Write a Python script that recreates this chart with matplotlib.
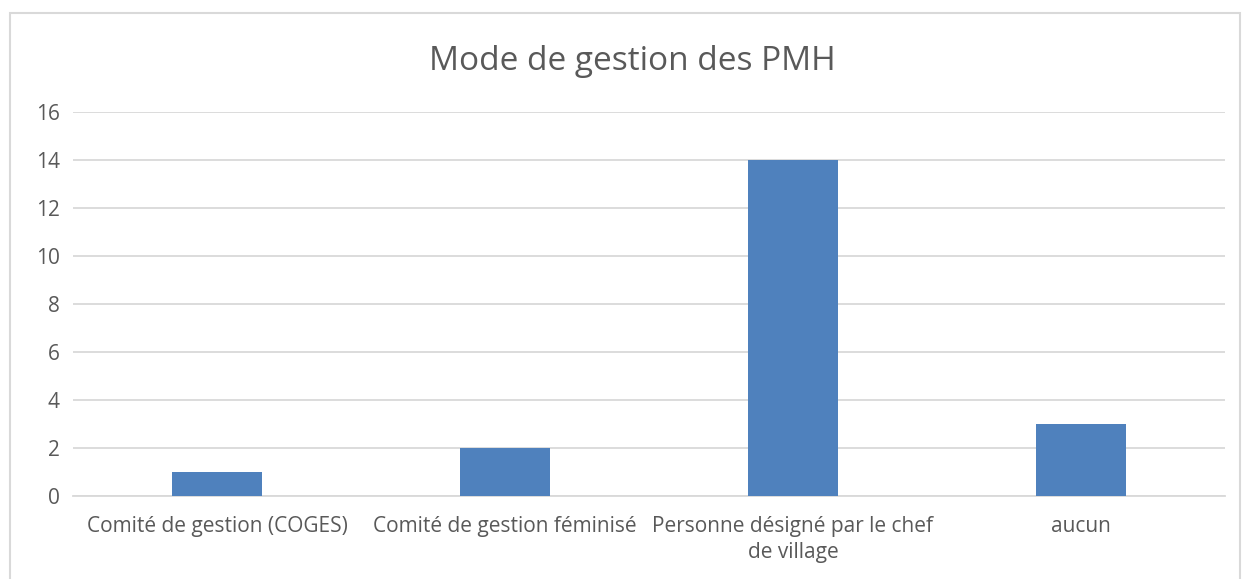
import matplotlib.pyplot as plt
from matplotlib.patches import Rectangle

categories = ['Comité de gestion (COGES)', 'Comité de gestion féminisé',
              'Personne désigné par le chef\nde village', 'aucun']
values = [1, 2, 14, 3]
yticks = [0, 2, 4, 6, 8, 10, 12, 14, 16]

plt.rcParams['font.family'] = ['Open Sans', 'DejaVu Sans']
text_color = '#595959'
grid_color = '#D9D9D9'

W, H = 1242, 579
fig = plt.figure(figsize=(W / 100, H / 100), dpi=100)
ax = fig.add_axes([73 / W, 83 / H, (1225 - 73) / W, (496 - 112) / H])

# outer chart frame
fig.patches.append(Rectangle((10 / W, -0.01), 1230 / W, (H - 13) / H + 0.01,
                             transform=fig.transFigure, fill=False,
                             edgecolor=grid_color, linewidth=1.5))

x = range(len(categories))
ax.bar(x, values, width=0.3125, color='#4F81BD', zorder=3)

ax.set_xlim(-0.5, len(categories) - 0.5)
ax.set_ylim(0, 16)
ax.set_yticks(yticks)
ax.set_xticks(list(x))
ax.set_xticklabels(categories, fontsize=15, color=text_color, linespacing=1.3)
ax.tick_params(axis='y', labelsize=15, labelcolor=text_color, length=0, pad=9.5)
ax.tick_params(axis='x', length=0, pad=14.5)
ax.grid(axis='y', color=grid_color, linewidth=1.3, zorder=0)
for s in ['top', 'right', 'left']:
    ax.spines[s].set_visible(False)
ax.spines['bottom'].set_color(grid_color)
ax.spines['bottom'].set_linewidth(1.3)

fig.text(632 / W, 1 - 62 / H, 'Mode de gestion des PMH', fontsize=24,
         color=text_color, ha='center', va='center')

fig.savefig('out.png', dpi=100)
